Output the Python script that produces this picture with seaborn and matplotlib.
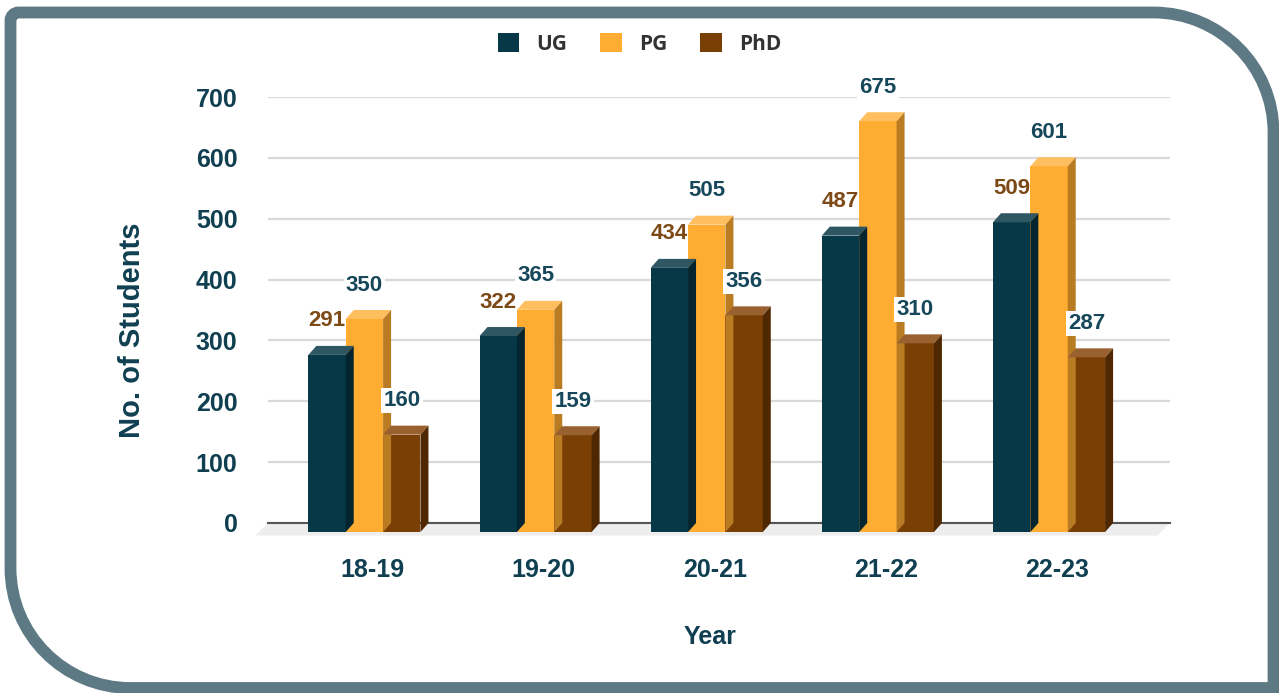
import pandas as pd
import seaborn as sb
import matplotlib.pyplot as plt
from matplotlib.patches import Polygon, Patch, PathPatch
from matplotlib.path import Path

# Data
years = ['18-19', '19-20', '20-21', '21-22', '22-23']
ug = [291, 322, 434, 487, 509]
pg = [350, 365, 505, 675, 601]
phd = [160, 159, 356, 310, 287]
levels = ['UG', 'PG', 'PhD']

front_cols = {'UG': '#073847', 'PG': '#ffac33', 'PhD': '#793f04'}
top_cols = {'UG': '#2e5663', 'PG': '#ffbf5e', 'PhD': '#9a6130'}
side_cols = {'UG': '#042530', 'PG': '#b97c22', 'PhD': '#4f2802'}
label_cols = {'UG': '#7d4a17', 'PG': '#16475a', 'PhD': '#16475a'}
text_col = '#0f3f50'

rows = []
for i, y in enumerate(years):
    rows.append([y, 'UG', ug[i]])
    rows.append([y, 'PG', pg[i]])
    rows.append([y, 'PhD', phd[i]])
df = pd.DataFrame(rows, columns=['Year', 'Level', 'Students'])

plt.rcParams['font.family'] = ['Liberation Sans', 'DejaVu Sans']
fig = plt.figure(figsize=(12.79, 6.93), dpi=100)
W, H = 1279, 693
ax = fig.add_axes([268 / W, 1 - 523 / H, 902 / W, 426 / H])

sb.barplot(data=df, x='Year', y='Students', hue='Level', hue_order=levels,
           palette=front_cols, width=0.655, saturation=1, legend=False, ax=ax, zorder=3)

ax.set_xlim(-0.61, 4.66)
ax.set_ylim(0, 700)

# depth of the 3d effect in pixels, turned into data units
dpx, dpy = 8, 9
ddx = dpx * (4.66 + 0.61) / 902
ddy = dpy * 700 / 426

# floor
xl, xr = -0.61, 4.66
floor = Polygon([(xl, 0), (xr, 0), (xr - 1.6 * ddx, -1.4 * ddy), (xl - 1.6 * ddx, -1.4 * ddy)],
                closed=True, facecolor='#ededed', edgecolor='none', clip_on=False, zorder=1)
ax.add_patch(floor)
ax.plot([xl, xr], [0, 0], color='#555555', lw=1.5, zorder=2, clip_on=False)

for lev, cont in zip(levels, ax.containers):
    for p in cont.patches:
        v = p.get_height()
        p.set_x(p.get_x() - ddx)
        p.set_y(-ddy)
        p.set_clip_on(False)
        p.set_edgecolor('none')
        x0 = p.get_x()
        x1 = x0 + p.get_width()
        top = Polygon([(x0, v - ddy), (x1, v - ddy), (x1 + ddx, v), (x0 + ddx, v)],
                      closed=True, facecolor=top_cols[lev], edgecolor='none', zorder=3, clip_on=False)
        side = Polygon([(x1, -ddy), (x1 + ddx, 0), (x1 + ddx, v), (x1, v - ddy)],
                       closed=True, facecolor=side_cols[lev], edgecolor='none', zorder=3, clip_on=False)
        ax.add_patch(top)
        ax.add_patch(side)
        bbox = None
        if lev != 'UG':
            bbox = dict(boxstyle='square,pad=0.1', facecolor='white', edgecolor='none')
        ax.annotate(f'{int(v)}', ((x0 + x1) / 2, v), xytext=(0, 18), textcoords='offset points',
                    ha='center', va='center', fontsize=16, fontweight='bold',
                    color=label_cols[lev], bbox=bbox, zorder=5)

ax.set_yticks(range(0, 701, 100))
ax.yaxis.grid(True, color='#d9d9d9', lw=1.6, zorder=0)
ax.xaxis.grid(False)
ax.set_axisbelow(True)
for s in ax.spines.values():
    s.set_visible(False)
ax.tick_params(axis='both', length=0, labelsize=18, labelcolor=text_col)
ax.tick_params(axis='y', pad=22)
ax.tick_params(axis='x', pad=25)
for t in ax.get_xticklabels() + ax.get_yticklabels():
    t.set_fontweight('bold')
ax.set_xlabel('Year', fontsize=18, fontweight='bold', color=text_col)
ax.xaxis.set_label_coords((710 - 268) / 902, (523 - 637) / 426)
ax.xaxis.label.set_va('center')
ax.set_ylabel('No. of Students', fontsize=21, fontweight='bold', color=text_col)
ax.yaxis.set_label_coords((132 - 268) / 902, (523 - 330) / 426)
ax.yaxis.label.set_va('center')

handles = [Patch(facecolor=front_cols[l], edgecolor='none') for l in levels]
leg = fig.legend(handles, levels, loc='center', bbox_to_anchor=(0.5, 1 - 44 / H), ncol=3,
                 frameon=False, handlelength=1.05, handleheight=1.05, columnspacing=1.6,
                 handletextpad=0.8, prop={'family': ['Open Sans', 'DejaVu Sans'], 'weight': 'bold', 'size': 15})
for t in leg.get_texts():
    t.set_color('#333333')

# rounded frame around the figure (pixel coords), arcs as cubic beziers
L, R, T, B = 10.5, 1273.5, 680.5, 5.0
rb, rs = 120, 8
k = 0.5523
verts = [
    (L, T - rs), (L, T - rs + k * rs), (L + rs - k * rs, T), (L + rs, T),
    (R - rb, T), (R - rb + k * rb, T), (R, T - rb + k * rb), (R, T - rb),
    (R, B),
    (L + rb, B), (L + rb - k * rb, B), (L, B + rb - k * rb), (L, B + rb),
    (L, T - rs),
]
codes = [Path.MOVETO, Path.CURVE4, Path.CURVE4, Path.CURVE4,
         Path.LINETO, Path.CURVE4, Path.CURVE4, Path.CURVE4,
         Path.LINETO,
         Path.LINETO, Path.CURVE4, Path.CURVE4, Path.CURVE4,
         Path.CLOSEPOLY]
verts = [(x / W, y / H) for x, y in verts]
frame = PathPatch(Path(verts, codes), transform=fig.transFigure, facecolor='none',
                  edgecolor='#5d7a84', lw=8.5, joinstyle='miter', zorder=10)
fig.patches.append(frame)

fig.savefig('out.png', dpi=100)
